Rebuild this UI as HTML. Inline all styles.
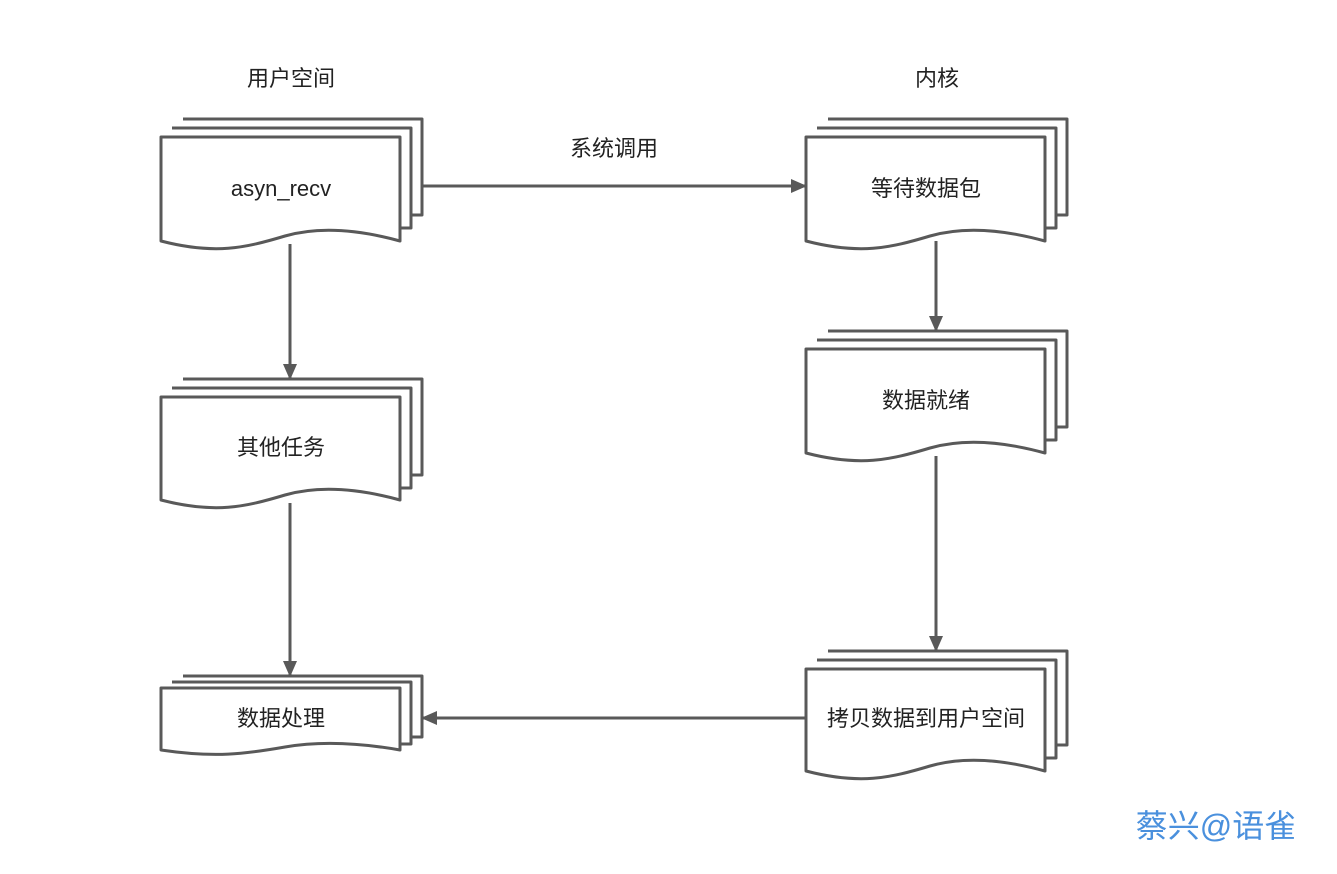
<!DOCTYPE html>
<html><head><meta charset="utf-8"><style>
html,body{margin:0;padding:0;background:#fff;}
svg{display:block;}
text{font-family:"Liberation Sans","Noto Sans CJK SC",sans-serif;fill:#222;}
</style></head><body>
<svg width="1337" height="874" viewBox="0 0 1337 874" xmlns="http://www.w3.org/2000/svg">
<defs>
<marker id="ahb" markerWidth="16" markerHeight="14" refX="15" refY="7" orient="auto" markerUnits="userSpaceOnUse" viewBox="0 0 16 14">
<path d="M0,0 L16,7 L0,14 Z" fill="#595959"/></marker>
</defs>
<g fill="#fff" stroke="#595959" stroke-width="3" stroke-linejoin="round">
<path d="M183,119 H422 V215 H405"/>
<path d="M172,128 H411 V228 H400"/>
<path d="M161,137 H400 V241 C360,230 320,226 285,236 C245,248 215,255 161,241 Z"/>
<path d="M183,379 H422 V475 H405"/>
<path d="M172,388 H411 V488 H400"/>
<path d="M161,397 H400 V500 C360,489 320,485 285,495 C245,507 215,514 161,500 Z"/>
<path d="M183,676 H422 V737 H405"/>
<path d="M172,682 H411 V744 H400"/>
<path d="M161,688 H400 V750 C360,743 320,741 285,747 C245,754 215,758 161,750 Z"/>
<path d="M828,119 H1067 V215 H1050"/>
<path d="M817,128 H1056 V228 H1045"/>
<path d="M806,137 H1045 V241 C1005,230 965,226 930,236 C890,248 860,255 806,241 Z"/>
<path d="M828,331 H1067 V427 H1050"/>
<path d="M817,340 H1056 V440 H1045"/>
<path d="M806,349 H1045 V453 C1005,442 965,438 930,448 C890,460 860,467 806,453 Z"/>
<path d="M828,651 H1067 V745 H1050"/>
<path d="M817,660 H1056 V758 H1045"/>
<path d="M806,669 H1045 V771 C1005,760 965,756 930,766 C890,778 860,785 806,771 Z"/>
</g>
<g stroke="#595959" stroke-width="3" fill="none">
<line x1="422" y1="186" x2="806" y2="186" marker-end="url(#ahb)"/>
<line x1="290" y1="244" x2="290" y2="379" marker-end="url(#ahb)"/>
<line x1="290" y1="503" x2="290" y2="676" marker-end="url(#ahb)"/>
<line x1="936" y1="241" x2="936" y2="331" marker-end="url(#ahb)"/>
<line x1="936" y1="456" x2="936" y2="651" marker-end="url(#ahb)"/>
<line x1="806" y1="718" x2="422" y2="718" marker-end="url(#ahb)"/>
</g>
<g font-size="22" text-anchor="middle">
<text x="291" y="86">用户空间</text>
<text x="937" y="86">内核</text>
<text x="614" y="156">系统调用</text>
<text x="281" y="196">asyn_recv</text>
<text x="281" y="455">其他任务</text>
<text x="281" y="726">数据处理</text>
<text x="926" y="196">等待数据包</text>
<text x="926" y="408">数据就绪</text>
<text x="926" y="726">拷贝数据到用户空间</text>
</g>
<text x="1216" y="837" font-size="32" text-anchor="middle" style="fill:#4a90dd">蔡兴@语雀</text>
</svg>
</body></html>
